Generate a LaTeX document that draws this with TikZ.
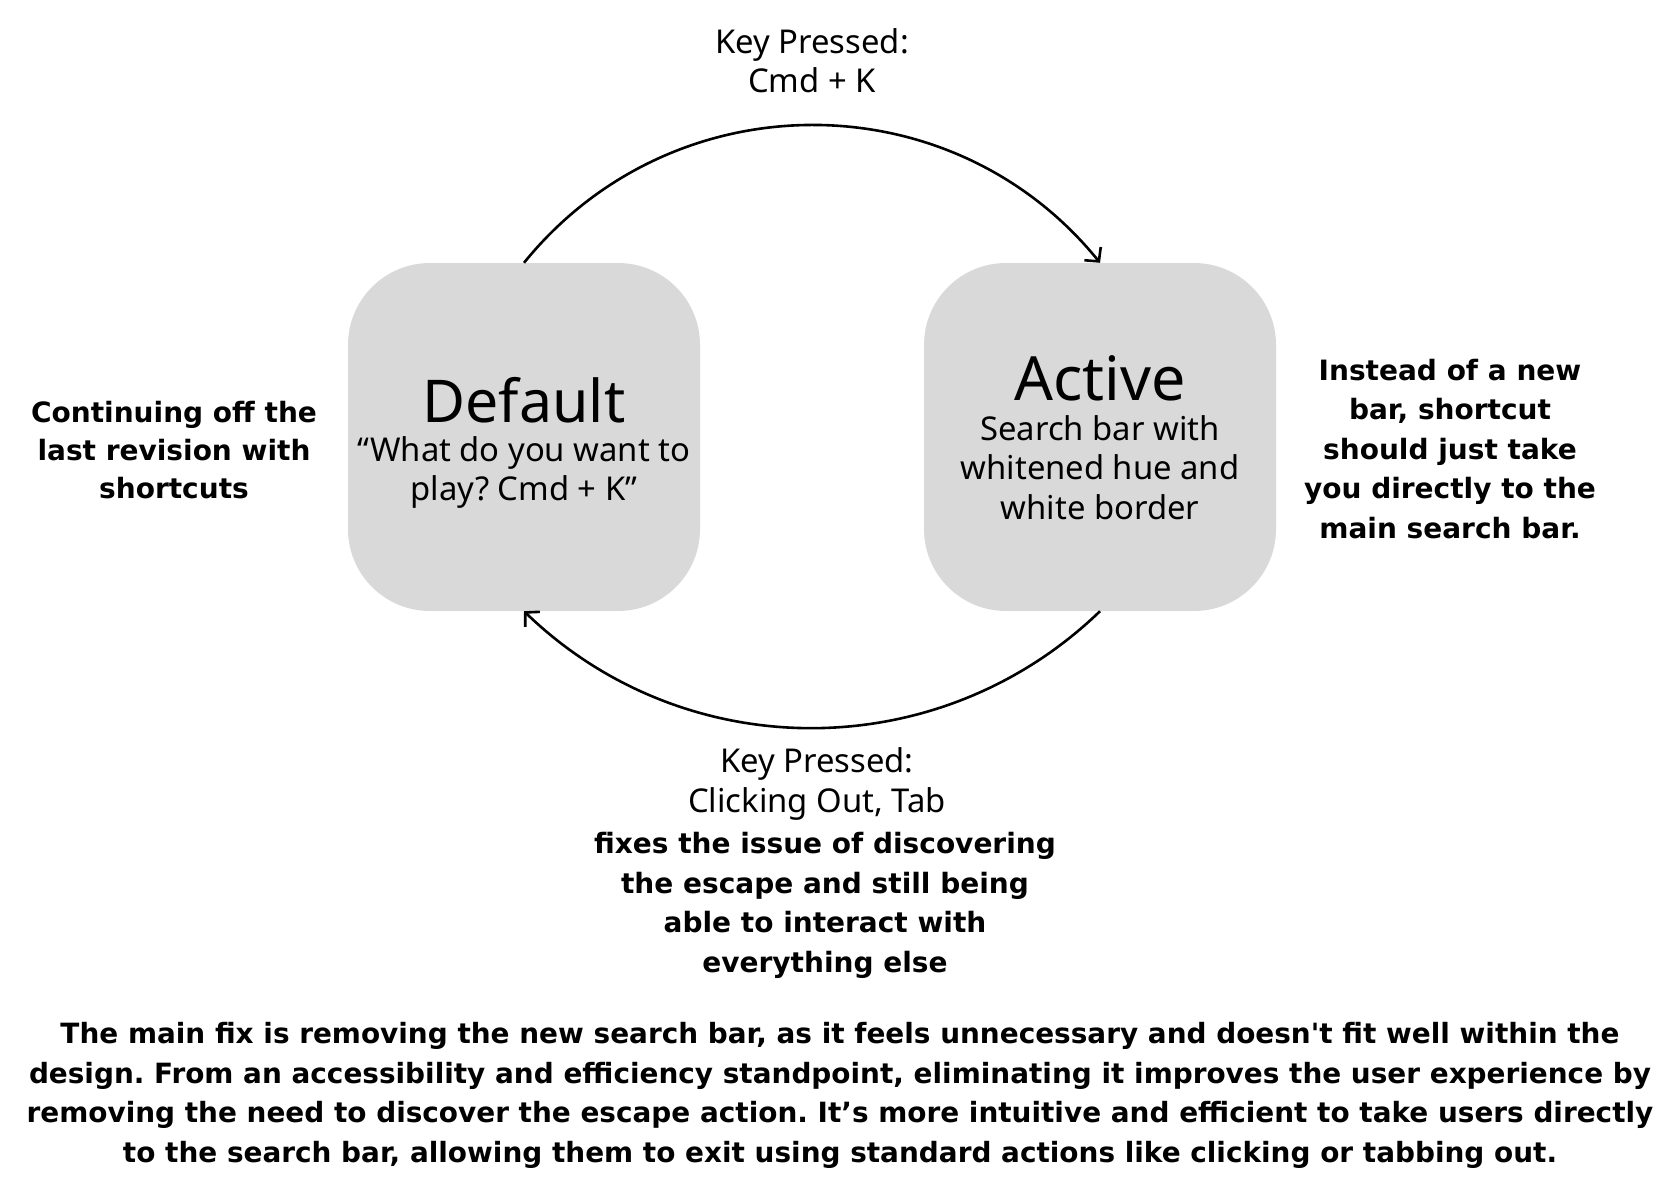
\documentclass[tikz,border=0pt]{standalone}
\usepackage{fontspec}
\setmainfont{Noto Sans}
\newfontfamily\notefont{DejaVu Sans}
\usetikzlibrary{arrows.meta}
\definecolor{boxgray}{HTML}{D9D9D9}
\frenchspacing
\begin{document}
\begin{tikzpicture}[x=1pt,y=1pt,
  state/.style={fill=boxgray, rounded corners=82pt, minimum width=352pt, minimum height=348pt, inner sep=0pt},
  titletext/.style={font=\fontsize{61}{70}\selectfont, inner sep=0pt, anchor=base},
  subtext/.style={font=\fontsize{32.8}{39}\selectfont, align=center, inner sep=0pt, anchor=base},
  notetext/.style={font=\notefont\bfseries\fontsize{28}{39.5}\selectfont, align=center, inner sep=0pt, anchor=base},
  flow/.style={line width=2.6pt, -{Straight Barb[length=10pt,width=21pt]}}]
\useasboundingbox[fill=white] (0,0) rectangle (1672,-1196);

\node[state] (def) at (524,-437) {};
\node[state] (act) at (1100,-437) {};

\node[titletext, font=\fontsize{59}{70}\selectfont] (deft) at (524,-422) {Default};
\node[subtext, font=\fontsize{32.8}{38.5}\selectfont] (defs) at (524,-500) {“What do you want to\\play? Cmd + K”};
\node[titletext] (actt) at (1100,-400) {Active};
\node[subtext, font=\fontsize{32.8}{39.5}\selectfont] (acts) at (1100,-519) {Search bar with\\whitened hue and\\white border};

\node[subtext] (key1) at (812,-93) {Key Pressed:\\Cmd + K};
\node[subtext, font=\fontsize{32.8}{40}\selectfont] (key2) at (817,-812) {Key Pressed:\\Clicking Out, Tab};

\node[notetext, font=\notefont\bfseries\fontsize{28}{38}\selectfont] (leftnote) at (174,-498) {Continuing off the\\last revision with\\shortcuts};
\node[notetext] (rightnote) at (1450,-538) {Instead of a new\\bar, shortcut\\should just take\\you directly to the\\main search bar.};
\node[notetext] (fixnote) at (825,-972) {fixes the issue of discovering\\the escape and still being\\able to interact with\\everything else};
\node[notetext, font=\notefont\bfseries\fontsize{27.9}{39.5}\selectfont] (summary) at (840,-1162) {The main fix is removing the new search bar, as it feels unnecessary and doesn't fit well within the\\design. From an accessibility and efficiency standpoint, eliminating it improves the user experience by\\removing the need to discover the escape action. It’s more intuitive and efficient to take users directly\\to the search bar, allowing them to exit using standard actions like clicking or tabbing out.};

\draw[flow] (def.north) .. controls +(51:236) and +(129:236) .. (act.north);
\draw[flow] (act.south) .. controls +(224:224) and +(316:224) .. (def.south);
\end{tikzpicture}
\end{document}
